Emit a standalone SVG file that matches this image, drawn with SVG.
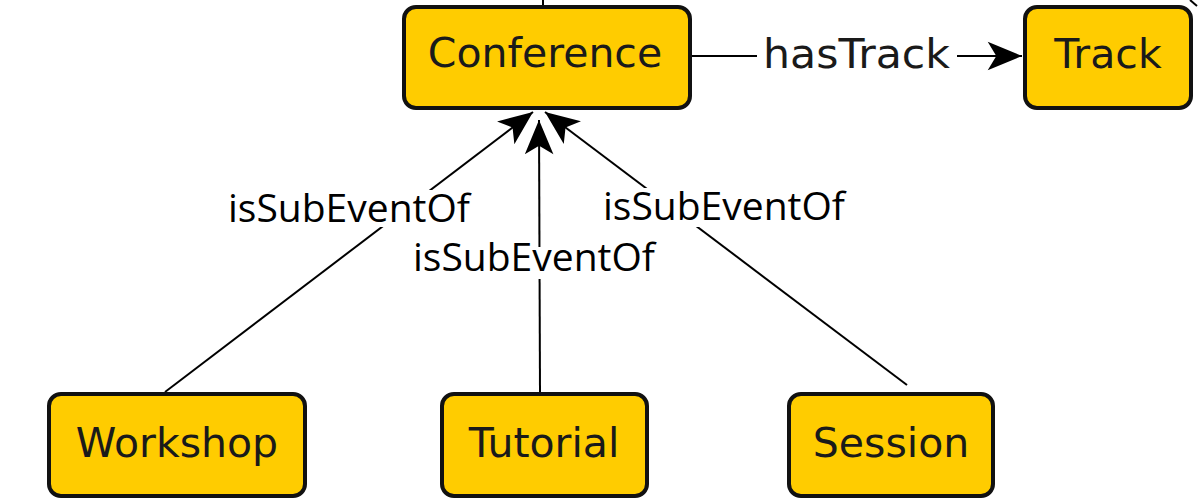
<svg xmlns="http://www.w3.org/2000/svg" width="1201" height="500" viewBox="0 0 1201 500">
<style>
.box{fill:#FFCC00;stroke:#111;stroke-width:4}
.nt{font-family:"DejaVu Sans",sans-serif;font-size:41px;fill:#1a1a1a;text-anchor:middle}
.el{font-family:"DejaVu Sans",sans-serif;font-size:41px;fill:#1a1a1a}
.lbl{font-family:"Open Sans","Noto Sans",sans-serif;font-size:39px;fill:#000}
.edge{stroke:#000;stroke-width:2;fill:none}
</style>
<defs>
<marker id="arr" markerUnits="userSpaceOnUse" markerWidth="40" markerHeight="36" viewBox="-40 -18 42 36" refX="0" refY="0" orient="auto">
<path d="M0,0 L-36,-15 L-27,0 L-36,15 Z" fill="#000"/>
</marker>
</defs>
<rect width="1201" height="500" fill="#fff"/>
<g id="connectors">
<line class="edge" x1="543" y1="0" x2="543" y2="6"/>
<line class="edge" x1="1190" y1="0" x2="1197" y2="6"/>
<line class="edge" x1="692" y1="56" x2="757" y2="56"/>
<line class="edge" x1="957" y1="56" x2="1022" y2="56" marker-end="url(#arr)"/>
<line class="edge" x1="165" y1="392" x2="533" y2="112" marker-end="url(#arr)"/>
<line class="edge" x1="540" y1="392" x2="539" y2="120" marker-end="url(#arr)"/>
<line class="edge" x1="907" y1="385" x2="545" y2="112" marker-end="url(#arr)"/>
<rect x="226" y="190" width="250" height="37" fill="#fff"/>
<text class="lbl" x="228" y="222">isSubEventOf</text>
<rect x="411" y="247" width="250" height="32" fill="#fff"/>
<text class="lbl" x="413" y="271">isSubEventOf</text>
<rect x="601" y="188" width="250" height="39" fill="#fff"/>
<text class="lbl" x="603" y="220">isSubEventOf</text>
<text class="el" x="763" y="68" textLength="187" lengthAdjust="spacingAndGlyphs">hasTrack</text>
</g>
<g id="conference">
<rect class="box" x="404" y="7" width="286" height="101" rx="12"/>
<text class="nt" x="545" y="67">Conference</text>
</g>
<g id="track">
<rect class="box" x="1025" y="7" width="166" height="101" rx="12"/>
<text class="nt" x="1108" y="68">Track</text>
</g>
<g id="workshop">
<rect class="box" x="49" y="394" width="256" height="102" rx="12"/>
<text class="nt" x="177" y="457">Workshop</text>
</g>
<g id="tutorial">
<rect class="box" x="442" y="394" width="205" height="102" rx="12"/>
<text class="nt" x="544" y="457">Tutorial</text>
</g>
<g id="session">
<rect class="box" x="789" y="394" width="204" height="102" rx="12"/>
<text class="nt" x="891" y="457">Session</text>
</g>
</svg>
